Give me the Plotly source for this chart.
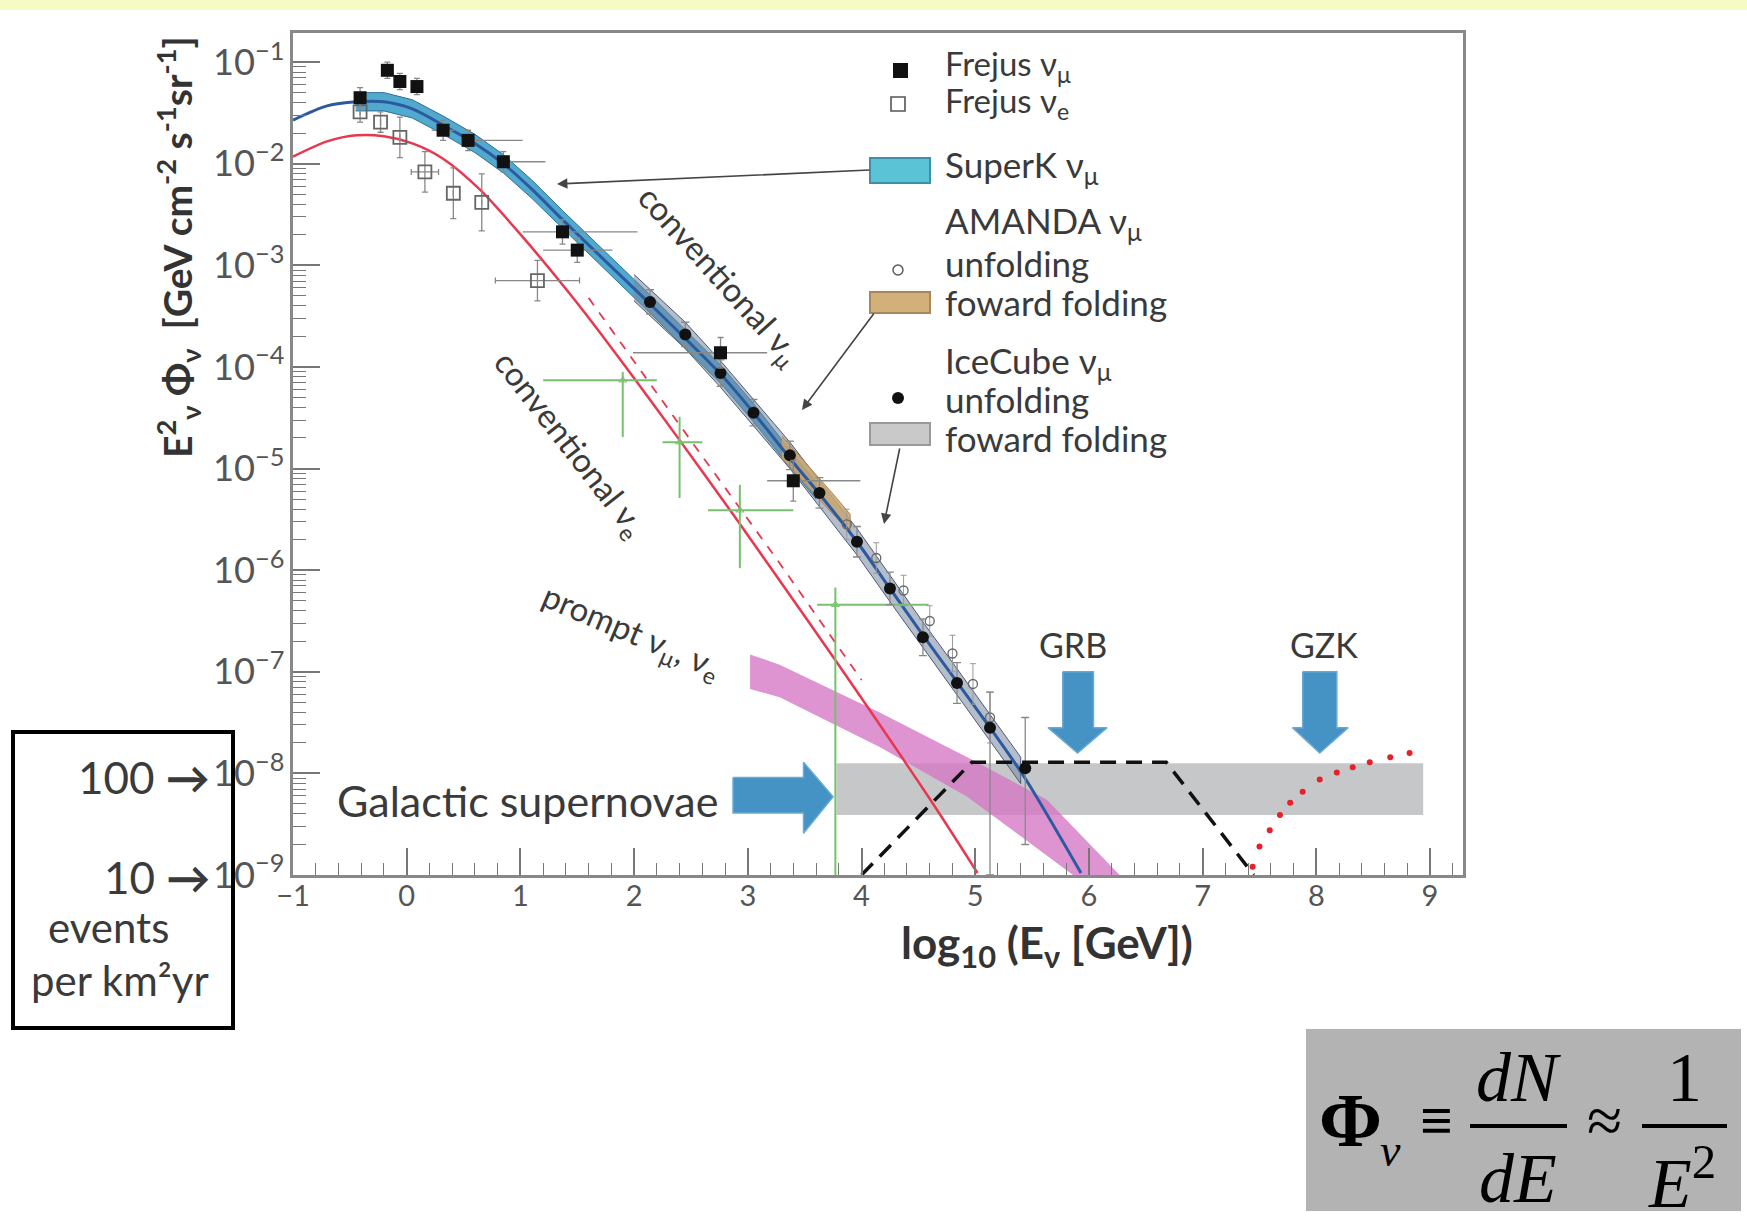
import plotly.graph_objects as go

# ---------------- data (x = log10(E/GeV), y = log10(E^2 Phi)) ----------------
conv_numu_x = [-1.0, -0.7, -0.44, -0.2, 0.05, 0.32, 0.6, 0.85, 1.1, 1.37, 1.75, 2.14, 2.76, 3.05, 3.4, 3.63, 3.96, 4.25, 4.54, 4.84, 5.13, 5.44, 5.93]
conv_numu_y = [-1.57, -1.43, -1.39, -1.39, -1.46, -1.62, -1.80, -2.0, -2.25, -2.55, -2.96, -3.38, -4.07, -4.45, -4.94, -5.25, -5.72, -6.18, -6.64, -7.10, -7.55, -8.05, -8.98]

conv_nue_x = [-1.0, -0.7, -0.44, -0.2, 0.05, 0.32, 0.64, 1.02, 1.52, 1.96, 2.40, 2.87, 3.26, 3.76, 4.6, 5.02]
conv_nue_y = [-1.93, -1.78, -1.72, -1.73, -1.80, -1.95, -2.25, -2.72, -3.40, -4.05, -4.72, -5.45, -6.07, -6.87, -8.25, -8.98]

nue_dash_x = [1.6, 2.4, 3.26, 4.0]
nue_dash_y = [-3.32, -4.57, -5.9, -7.08]

superk_x = [-0.45, -0.2, 0.05, 0.32, 0.6, 0.85, 1.1, 1.37, 1.75, 2.14, 2.76, 3.05, 3.4, 3.6]
superk_hi = [-1.30, -1.30, -1.37, -1.53, -1.71, -1.91, -2.16, -2.46, -2.87, -3.29, -3.98, -4.36, -4.86, -5.13]
superk_lo = [-1.48, -1.48, -1.55, -1.71, -1.89, -2.09, -2.34, -2.64, -3.05, -3.47, -4.16, -4.54, -5.03, -5.30]

icff_x = [2.0, 2.45, 2.76, 3.05, 3.37, 3.63, 3.96, 4.25, 4.54, 4.84, 5.13, 5.4]
icff_hi = [-3.09, -3.56, -3.94, -4.32, -4.74, -5.12, -5.59, -6.05, -6.51, -6.97, -7.42, -7.84]
icff_lo = [-3.35, -3.82, -4.20, -4.58, -5.00, -5.38, -5.85, -6.31, -6.77, -7.23, -7.68, -8.10]

amff_x = [3.3, 3.5, 3.75, 3.9]
amff_hi = [-4.68, -4.93, -5.25, -5.45]
amff_lo = [-4.90, -5.15, -5.45, -5.62]

prompt_hi_x = [3.02, 3.28, 4.16, 4.93, 5.63, 6.27]
prompt_hi_y = [-6.83, -6.93, -7.40, -7.84, -8.26, -9.0]
prompt_lo_x = [3.02, 3.28, 4.16, 4.93, 5.86]
prompt_lo_y = [-7.17, -7.25, -7.74, -8.23, -9.0]

sn_band_x = [3.78, 8.94]
sn_band_y = [-8.41, -7.90]

grb_x = [4.0, 4.97, 6.68, 7.45]
grb_y = [-9.0, -7.89, -7.89, -9.0]

gzk_x = [7.44, 7.50, 7.59, 7.68, 7.77, 7.88, 8.03, 8.18, 8.32, 8.47, 8.65, 8.82]
gzk_y = [-8.92, -8.72, -8.56, -8.41, -8.29, -8.18, -8.06, -7.99, -7.94, -7.89, -7.84, -7.80]

frejus_mu_x = [-0.41, -0.17, -0.06, 0.09, 0.32, 0.54, 0.85, 1.37, 1.50, 2.76, 3.40]
frejus_mu_y = [-1.35, -1.08, -1.19, -1.24, -1.67, -1.77, -1.98, -2.67, -2.85, -3.86, -5.12]
frejus_mu_xm = [0.0, 0.0, 0.0, 0.0, 0.1, 0.0, 0.0, 0.35, 0.30, 0.77, 0.23]
frejus_mu_xp = [0.0, 0.0, 0.0, 0.0, 0.1, 0.48, 0.37, 0.66, 0.31, 0.41, 0.59]
frejus_mu_ye = [0.1, 0.08, 0.08, 0.08, 0.1, 0.1, 0.1, 0.12, 0.12, 0.15, 0.2]

frejus_e_x = [-0.41, -0.23, -0.06, 0.16, 0.41, 0.66, 1.15]
frejus_e_y = [-1.49, -1.59, -1.74, -2.08, -2.29, -2.38, -3.15]
frejus_e_xe = [0.0, 0.0, 0.0, 0.12, 0.0, 0.0, 0.37]
frejus_e_ye = [0.1, 0.1, 0.2, 0.2, 0.25, 0.28, 0.2]

icecube_x = [2.14, 2.45, 2.76, 3.05, 3.37, 3.63, 3.96, 4.25, 4.54, 4.84, 5.13, 5.44]
icecube_y = [-3.36, -3.68, -4.06, -4.45, -4.87, -5.24, -5.72, -6.18, -6.66, -7.11, -7.55, -7.95]
icecube_yp = [0.12, 0.12, 0.13, 0.13, 0.14, 0.15, 0.15, 0.16, 0.18, 0.2, 0.35, 0.5]
icecube_ym = [0.12, 0.12, 0.13, 0.13, 0.14, 0.15, 0.15, 0.16, 0.18, 0.2, 1.45, 0.75]

amanda_x = [3.87, 4.13, 4.37, 4.6, 4.8, 4.98, 5.13]
amanda_y = [-5.55, -5.88, -6.2, -6.5, -6.82, -7.12, -7.45]
amanda_ye = [0.15, 0.15, 0.15, 0.15, 0.18, 0.2, 0.25]

green_x = [1.90, 2.40, 2.93, 3.77]
green_y = [-4.13, -4.74, -5.41, -6.34]
green_xm = [0.70, 0.15, 0.28, 0.16]
green_xp = [0.30, 0.20, 0.47, 0.82]
green_yp = [0.08, 0.25, 0.25, 0.17]
green_ym = [0.56, 0.55, 0.57, 2.66]

# blue indicator arrows (outline vertices in x, log10 y)
arrow_grb_x = [5.77, 6.04, 6.04, 6.16, 5.90, 5.64, 5.77, 5.77]
arrow_grb_y = [-7.0, -7.0, -7.55, -7.55, -7.80, -7.55, -7.55, -7.0]
arrow_gzk_x = [7.88, 8.18, 8.18, 8.28, 8.03, 7.79, 7.88, 7.88]
arrow_gzk_y = [-7.0, -7.0, -7.55, -7.55, -7.80, -7.55, -7.55, -7.0]
arrow_sn_x = [2.87, 3.49, 3.49, 3.75, 3.49, 3.49, 2.87, 2.87]
arrow_sn_y = [-8.04, -8.04, -7.89, -8.23, -8.59, -8.39, -8.39, -8.04]

x_ticks = [-1, 0, 1, 2, 3, 4, 5, 6, 7, 8, 9]

# ---------------- helpers ----------------
def P(v):
    return [10 ** a for a in v]

def errs(y, d):
    return [10 ** (a + b) - 10 ** a for a, b in zip(y, d)]

def errm(y, d):
    return [10 ** a - 10 ** (a - b) for a, b in zip(y, d)]

W, H = 1747, 1227
L, R, T, B = 293, 1463, 33, 875

def px(X):
    return (X - L) / (R - L)

def py(Y):
    return (B - Y) / (B - T)

FONT = "Lato"
fig = go.Figure()

def band(xs_hi, ys_hi, xs_lo, ys_lo, fill, line, name):
    fig.add_trace(go.Scatter(
        x=list(xs_hi) + list(xs_lo)[::-1],
        y=P(list(ys_hi) + list(ys_lo)[::-1]),
        fill="toself", fillcolor=fill, mode="lines",
        line=dict(color=line, width=1), name=name, hoverinfo="skip"))

band(sn_band_x, [sn_band_y[1]] * 2, sn_band_x, [sn_band_y[0]] * 2, "#c6c7c9", "rgba(0,0,0,0)", "Galactic SN")
band(prompt_hi_x, prompt_hi_y, prompt_lo_x, prompt_lo_y, "rgba(212,118,196,0.78)", "rgba(0,0,0,0)", "prompt")
band(superk_x, superk_hi, superk_x, superk_lo, "rgba(62,160,200,0.9)", "#2a6f9e", "SuperK")
band(icff_x, icff_hi, icff_x, icff_lo, "rgba(120,135,160,0.55)", "#4a5a78", "IceCube ff")
band(amff_x, amff_hi, amff_x, amff_lo, "rgba(200,165,110,0.85)", "#a8885a", "AMANDA ff")

fig.add_trace(go.Scatter(x=conv_nue_x, y=P(conv_nue_y), mode="lines", line=dict(color="#e8384f", width=2.5, shape="spline", smoothing=0.8), name="conv nue"))
fig.add_trace(go.Scatter(x=nue_dash_x, y=P(nue_dash_y), mode="lines", line=dict(color="#e8384f", width=1.8, dash="dash"), name="conv nue dash"))
fig.add_trace(go.Scatter(x=conv_numu_x, y=P(conv_numu_y), mode="lines", line=dict(color="#2c5aa0", width=3, shape="spline", smoothing=0.8), name="conv numu"))

fig.add_trace(go.Scatter(
    x=green_x, y=P(green_y), mode="markers",
    marker=dict(symbol="triangle-up-open", size=7, color="#78c070"),
    error_x=dict(type="data", symmetric=False, array=green_xp, arrayminus=green_xm, color="#78c070", thickness=2, width=0),
    error_y=dict(type="data", symmetric=False, array=errs(green_y, green_yp), arrayminus=errm(green_y, green_ym), color="#78c070", thickness=2, width=0),
    name="green"))

fig.add_trace(go.Scatter(
    x=amanda_x, y=P(amanda_y), mode="markers",
    marker=dict(symbol="circle-open", size=9, color="#666", line=dict(width=1.3)),
    error_y=dict(type="data", symmetric=False, array=errs(amanda_y, amanda_ye), arrayminus=errm(amanda_y, amanda_ye), color="#999", thickness=1, width=3),
    name="AMANDA"))

fig.add_trace(go.Scatter(
    x=frejus_e_x, y=P(frejus_e_y), mode="markers",
    marker=dict(symbol="square-open", size=13, color="#666", line=dict(width=1.8)),
    error_x=dict(type="data", array=frejus_e_xe, color="#888", thickness=1.3, width=3),
    error_y=dict(type="data", symmetric=False, array=errs(frejus_e_y, frejus_e_ye), arrayminus=errm(frejus_e_y, frejus_e_ye), color="#888", thickness=1.3, width=3),
    name="Frejus nue"))

fig.add_trace(go.Scatter(
    x=icecube_x, y=P(icecube_y), mode="markers",
    marker=dict(symbol="circle", size=12, color="#111"),
    error_y=dict(type="data", symmetric=False, array=errs(icecube_y, icecube_yp), arrayminus=errm(icecube_y, icecube_ym), color="#888", thickness=1.3, width=4),
    name="IceCube"))

fig.add_trace(go.Scatter(
    x=frejus_mu_x, y=P(frejus_mu_y), mode="markers",
    marker=dict(symbol="square", size=13, color="#111"),
    error_x=dict(type="data", symmetric=False, array=frejus_mu_xp, arrayminus=frejus_mu_xm, color="#888", thickness=1.3, width=0),
    error_y=dict(type="data", symmetric=False, array=errs(frejus_mu_y, frejus_mu_ye), arrayminus=errm(frejus_mu_y, frejus_mu_ye), color="#888", thickness=1.3, width=3),
    name="Frejus numu"))

fig.add_trace(go.Scatter(x=grb_x, y=P(grb_y), mode="lines", line=dict(color="#111", width=3.5, dash="16px,10px"), name="GRB"))
fig.add_trace(go.Scatter(x=gzk_x, y=P(gzk_y), mode="markers", marker=dict(color="#e8202a", size=6), name="GZK"))

for ax_, ay_ in [(arrow_grb_x, arrow_grb_y), (arrow_gzk_x, arrow_gzk_y), (arrow_sn_x, arrow_sn_y)]:
    fig.add_trace(go.Scatter(x=ax_, y=P(ay_), fill="toself", fillcolor="#4592c4", mode="lines",
                             line=dict(color="#6aaad2", width=1.5), hoverinfo="skip"))

# ---------------- annotations ----------------
ann = []
def text(X, Y, s, size, color="#3a3a3a", angle=0, xanchor="center", family=FONT, yanchor="middle"):
    ann.append(dict(x=px(X), y=py(Y), xref="paper", yref="paper", text=s, showarrow=False,
                    font=dict(family=family, size=size, color=color), textangle=angle,
                    xanchor=xanchor, yanchor=yanchor))

leg = [(65, "Frejus ν<sub>μ</sub>", 33), (102, "Frejus ν<sub>e</sub>", 33), (167, "SuperK ν<sub>μ</sub>", 35),
       (223, "AMANDA ν<sub>μ</sub>", 35), (263, "unfolding", 35), (302, "foward folding", 35),
       (362, "IceCube ν<sub>μ</sub>", 35), (399, "unfolding", 35), (438, "foward folding", 35)]
for yy, s, fs in leg:
    text(943, yy, s, fs, xanchor="left")

text(719, 275, "conventional ν<sub>μ</sub>", 33, angle=48)
text(569, 445, "conventional ν<sub>e</sub>", 33, angle=52)
text(631, 633, "prompt ν<sub>μ</sub>, ν<sub>e</sub>", 33, angle=23)
text(1073, 644, "GRB", 34)
text(1324, 644, "GZK", 34)
text(527, 800, "Galactic supernovae", 43)

text(178, 247, "<b>E<sup>2</sup><sub>ν</sub> Φ<sub>ν</sub>  [GeV cm<sup>-2</sup> s<sup>-1</sup>sr<sup>-1</sup>]</b>", 39, color="#333", angle=-90)
text(1047, 945, "<b>log<sub>10</sub> (E<sub>ν</sub> [GeV])</b>", 44, color="#333")

text(212, 777, "100 <b>→</b>", 44, xanchor="right")
text(212, 877, "10 <b>→</b>", 44, xanchor="right")
text(108, 927, "events", 42)
text(120, 980, "per km²yr", 42)

SERIF = "Liberation Serif"
text(1350, 1120, "<b>Φ</b>", 76, color="#000", family=SERIF)
text(1390, 1150, "<i>ν</i>", 46, color="#000", family=SERIF)
text(1436, 1120, "<b>≡</b>", 58, color="#000", family=SERIF)
text(1518, 1077, "<i>dN</i>", 70, color="#000", family=SERIF)
text(1518, 1178, "<i>dE</i>", 70, color="#000", family=SERIF)
text(1604, 1120, "≈", 64, color="#000", family=SERIF)
text(1684, 1077, "1", 70, color="#000", family=SERIF)
text(1682, 1178, "<i>E</i><sup>2</sup>", 70, color="#000", family=SERIF)

for (hx, hy, tx, ty) in [(557, 184, 871, 170), (802, 410, 875, 312), (884, 524, 900, 447)]:
    ann.append(dict(x=px(hx), y=py(hy), xref="paper", yref="paper", text="", showarrow=True,
                    ax=tx - hx, ay=ty - hy, arrowhead=2, arrowsize=1.3, arrowwidth=1.6,
                    arrowcolor="#444", standoff=0))

# ---------------- shapes ----------------
shapes = []
def rect(x0, y0, x1, y1, fill, line="rgba(0,0,0,0)", lw=0, layer="above", kind="rect"):
    shapes.append(dict(type=kind, xref="paper", yref="paper", x0=px(x0), x1=px(x1), y0=py(y1), y1=py(y0),
                       fillcolor=fill, line=dict(color=line, width=lw), layer=layer))

rect(0, -2, W, 10, "#f5fbc2", layer="below")
rect(893, 63, 908, 78, "#111")
rect(891, 97, 905, 111, "white", "#555", 1.6)
rect(870, 158, 930, 183, "#5ac4d6", "#3f8fa8", 2)
rect(893, 265, 903, 275, "white", "#555", 1.4, kind="circle")
rect(870, 292, 930, 313, "#d2b07a", "#a8885a", 2)
rect(892, 392, 904, 404, "#111", kind="circle")
rect(870, 423, 930, 445, "#c9c9c9", "#999", 2)
rect(13, 732, 233, 1028, "rgba(0,0,0,0)", "#000", 4)
rect(1306, 1029, 1741, 1211, "#b3b3b3", layer="below")
for (a, b) in [(1470, 1567), (1642, 1727)]:
    shapes.append(dict(type="line", xref="paper", yref="paper", x0=px(a), x1=px(b), y0=py(1126), y1=py(1126),
                       line=dict(color="#000", width=4)))

fig.update_layout(
    width=W, height=H, autosize=False,
    margin=dict(l=L, r=W - R, t=T, b=H - B, pad=0),
    paper_bgcolor="white", plot_bgcolor="white",
    showlegend=False, annotations=ann, shapes=shapes,
    xaxis=dict(range=[-1, 9.29], tickvals=x_ticks, ticks="inside", ticklen=27, tickwidth=1.5,
               tickcolor="#777", showline=True, linecolor="#888", linewidth=2.5, mirror=True,
               showgrid=False, zeroline=False, ticklabelstandoff=-7,
               tickfont=dict(family=FONT, size=29, color="#555"),
               minor=dict(dtick=0.2, ticks="inside", ticklen=12, tickwidth=1.3, tickcolor="#777", showgrid=False)),
    yaxis=dict(type="log", range=[-9, -0.713], dtick=1, exponentformat="power", showexponent="all",
               ticks="inside", ticklen=27, tickwidth=1.5, tickcolor="#777",
               showline=True, linecolor="#888", linewidth=2.5, mirror=True, showgrid=False, zeroline=False,
               tickfont=dict(family=FONT, size=29, color="#555"),
               minor=dict(dtick="D1", ticks="inside", ticklen=13, tickwidth=1.3, tickcolor="#777", showgrid=False)),
)

fig.write_html("out.html", config={"displayModeBar": False},
               post_script="document.body.style.margin='0';document.body.style.overflow='hidden';")
